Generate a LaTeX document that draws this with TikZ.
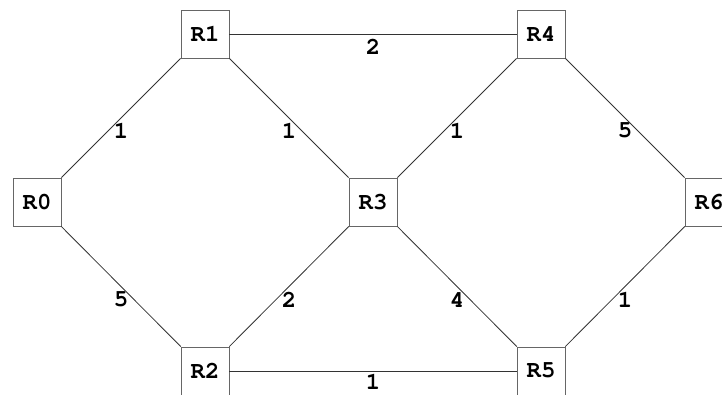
\documentclass[tikz,border=0pt]{standalone}
\usepackage[T1]{fontenc}
\usepackage{courier}
\begin{document}
\begin{tikzpicture}[x=1pt,y=-1pt,
  router/.style={draw=black!60, line width=0.9pt, fill=white, minimum width=48pt, minimum height=48pt, inner sep=0pt, font=\ttfamily\bfseries\fontsize{24}{24}\selectfont},
  link/.style={draw=black!80, line width=0.8pt},
  cost/.style={font=\ttfamily\bfseries\fontsize{24}{24}\selectfont, inner sep=0pt, yshift=-13pt}]
\useasboundingbox (0,0) rectangle (722,394);
\clip (0,0) rectangle (722,394);
\node[router] (R0) at (37,202) {R0};
\node[router] (R1) at (205,34) {R1};
\node[router] (R2) at (205,371) {R2};
\node[router] (R3) at (373,202) {R3};
\node[router] (R4) at (541,34) {R4};
\node[router] (R5) at (541,371) {R5};
\node[router] (R6) at (709,202) {R6};
\path[link] (R0) -- node[cost] {1} (R1);
\path[link] (R1) -- node[cost] {1} (R3);
\path[link] (R1) -- node[cost] {2} (R4);
\path[link] (R3) -- node[cost] {1} (R4);
\path[link] (R4) -- node[cost] {5} (R6);
\path[link] (R0) -- node[cost] {5} (R2);
\path[link] (R2) -- node[cost] {2} (R3);
\path[link] (R3) -- node[cost] {4} (R5);
\path[link] (R5) -- node[cost] {1} (R6);
\path[link] (R2) -- node[cost, yshift=2pt] {1} (R5);
\end{tikzpicture}
\end{document}
